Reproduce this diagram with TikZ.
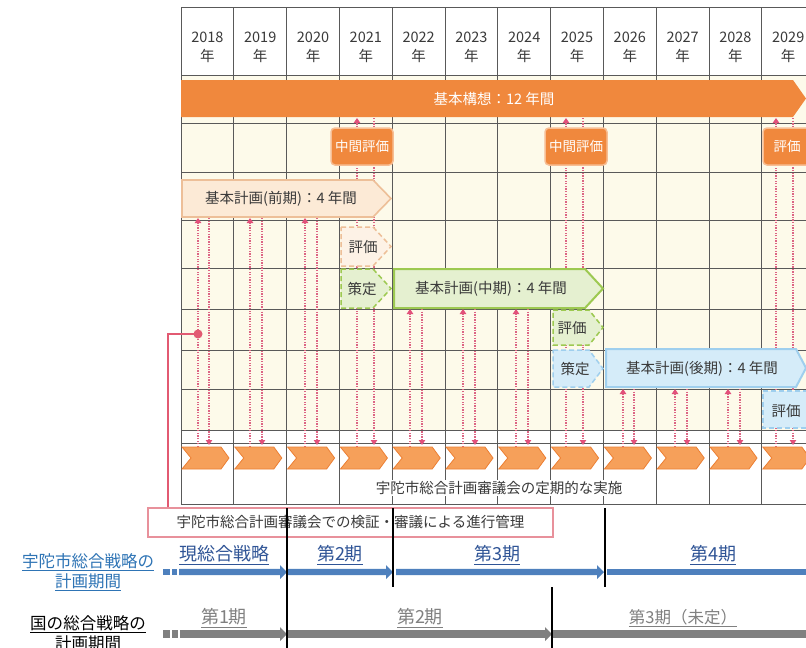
\documentclass[tikz,border=0pt]{standalone}
\usepackage{fontspec}
\setmainfont{Noto Sans CJK JP}
\usetikzlibrary{arrows.meta}
\definecolor{gridc}{HTML}{595959}
\definecolor{cream}{HTML}{FDFAEA}
\definecolor{orgA}{HTML}{F0883D}
\definecolor{chevF}{HTML}{F6A05A}
\definecolor{chevD}{HTML}{EC7F33}
\definecolor{peachF}{HTML}{FCEAD6}
\definecolor{peachD}{HTML}{EDBF98}
\definecolor{greenF}{HTML}{E5F0D0}
\definecolor{greenD}{HTML}{9DC951}
\definecolor{blueF}{HTML}{D5ECF9}
\definecolor{blueD}{HTML}{9FCFEE}
\definecolor{dotc}{HTML}{DC6584}
\definecolor{tipc}{HTML}{E2507A}
\definecolor{boxpink}{HTML}{E8919B}
\definecolor{linkpink}{HTML}{E25A72}
\definecolor{stratblue}{HTML}{4E80BD}
\definecolor{stratlabel}{HTML}{2F5496}
\definecolor{leftblue}{HTML}{2E74B5}
\definecolor{grayarr}{HTML}{808080}
\definecolor{txt}{HTML}{3A3A3A}
\tikzset{
  gridline/.style={draw=gridc, line width=0.9pt},
  yearlbl/.style={font=\fontsize{14.5}{19}\selectfont, align=center, text=txt, inner sep=0pt},
  chartlbl/.style={font=\fontsize{14.5}{16}\selectfont, text=txt, inner sep=0pt},
  evalbox/.style={rounded corners=4pt, fill=orgA, draw=orgA!55!white, line width=1.5pt, text=white, font=\fontsize{13.5}{15}\selectfont, minimum width=62pt, minimum height=37pt, inner sep=0pt},
  dotline/.style={draw=dotc, line width=1.1pt, dash pattern=on 1.3pt off 1.3pt},
  dotarrow/.style={dotline, -{Triangle[length=5pt,width=6.5pt,color=tipc]}},
  chev/.style={fill=chevF, draw=chevD, line width=0.8pt},
  planbox/.style={line width=1.6pt},
  dashbox/.style={line width=1.5pt, dash pattern=on 5pt off 3pt},
  stratlbl/.style={font=\fontsize{18}{20}\selectfont, text=stratlabel, inner sep=0pt},
  natlbl/.style={font=\fontsize{18}{20}\selectfont, text=grayarr, inner sep=0pt},
  sidelbl/.style={font=\fontsize{16.5}{20}\selectfont, align=center, inner sep=0pt},
}
% arrow segment with head: color, x0, x1, y, half thickness
\newcommand{\myarrowseg}[5]{\fill[#1] (#2,{#4-#5}) -- ({#3-7},{#4-#5}) -- ({#3-7},{#4-7}) -- (#3,#4) -- ({#3-7},{#4+7}) -- ({#3-7},{#4+#5}) -- (#2,{#4+#5}) -- cycle;}
\newcommand{\mybarseg}[5]{\fill[#1] (#2,{#4-#5}) rectangle (#3,{#4+#5});}
\begin{document}
\begin{tikzpicture}[x=1pt,y=-1pt]
\useasboundingbox (0,0) rectangle (806,648);
\clip (0,0) rectangle (806,648);
\fill[white] (0,0) rectangle (806,648);
\fill[cream] (181,75) rectangle (806,430);
% grid
\foreach \y in {7,75,123,172,220,268,309,350,389,430,443,504}
  \draw[gridline] (181,\y) -- (806,\y);
\foreach \i in {0,...,11}
  \draw[gridline] ({181+52.8*\i},7) -- ({181+52.8*\i},504);
% years
\foreach \i/\yr in {0/2018,1/2019,2/2020,3/2021,4/2022,5/2023,6/2024,7/2025,8/2026,9/2027,10/2028,11/2029}
  \node[yearlbl] (y\yr) at ({181+52.8*(\i+0.5)},47) {\yr\\年};
% dotted connectors
\foreach \xl/\xr/\yt in {198/209/218, 250/262/218, 305/317/218, 357/374/118, 410/422/309, 463/475/309, 516/528/309, 566/583/118, 623/634/389, 675/687/389, 728/740/389, 776/793/118}
{
  \draw[dotarrow] (\xl,447) -- (\xl,\yt);
  \draw[dotarrow] (\xr,\yt) -- (\xr,445);
}
% chevrons
\foreach \i in {0,...,11} {
  \pgfmathsetmacro\xa{181+52.8*\i}
  \draw[chev] ({\xa+1},447) -- ({\xa+40},447) -- ({\xa+48},458) -- ({\xa+40},469) -- ({\xa+1},469) -- ({\xa+10},458) -- cycle;
  \coordinate (ch\i) at ({\xa+25},447);
}
\node[chartlbl, fill=white, inner sep=1pt] (shingi) at (499,488) {宇陀市総合計画審議会の定期的な実施};
% basic concept bar
\fill[orgA] (181,80) -- (793,80) -- (806,98.5) -- (793,117) -- (181,117) -- cycle;
\node[chartlbl, text=white] (kihonkoso) at (494,99) {基本構想：12 年間};
% evaluation boxes
\node[evalbox] (mid1) at (362,146.5) {中間評価};
\node[evalbox] (mid2) at (576,146.5) {中間評価};
\node[evalbox, minimum width=48pt] (ev3) at (787,146.5) {評価};
% first plan
\draw[planbox, fill=peachF, draw=peachD] (182,180) -- (373,180) -- (391,198.5) -- (373,217) -- (182,217) -- cycle;
\node[chartlbl] (zenki) at (281,199) {基本計画(前期)：4 年間};
\draw[dashbox, fill=peachF!60!white, draw=peachD] (341,227) -- (373,227) -- (391,246.5) -- (373,266) -- (341,266) -- cycle;
\node[chartlbl] (hyoka1) at (363,247) {評価};
% second plan
\draw[dashbox, fill=greenF, draw=greenD] (341,269) -- (373,269) -- (391,288.5) -- (373,308) -- (341,308) -- cycle;
\node[chartlbl] (sakutei1) at (362,289) {策定};
\draw[planbox, line width=2pt, fill=greenF, draw=greenD] (394,269) -- (585,269) -- (603,288.5) -- (585,308) -- (394,308) -- cycle;
\node[chartlbl] (chuki) at (491,289) {基本計画(中期)：4 年間};
\draw[dashbox, fill=greenF, draw=greenD] (553,310) -- (589,310) -- (603,327.5) -- (589,345) -- (553,345) -- cycle;
\node[chartlbl] (hyoka2) at (572,328) {評価};
% third plan
\draw[dashbox, fill=blueF, draw=blueD] (553,350) -- (589,350) -- (603,368.5) -- (589,387) -- (553,387) -- cycle;
\node[chartlbl] (sakutei2) at (575,369) {策定};
\draw[planbox, line width=2pt, fill=blueF, draw=blueD] (606,349) -- (796,349) -- (806,368) -- (796,387) -- (606,387) -- cycle;
\node[chartlbl] (koki) at (702,369) {基本計画(後期)：4 年間};
\draw[dashbox, fill=blueF, draw=blueD] (763,391) -- (830,391) -- (830,428) -- (763,428) -- cycle;
\node[chartlbl] (hyoka3) at (786,411) {評価};
% management box and link
\coordinate (jn) at (198,334);
\node[chartlbl, draw=boxpink, line width=1.2pt, fill=white, minimum width=405pt, minimum height=29pt] (kanri) at (350.5,522.5) {宇陀市総合計画審議会での検証・審議による進行管理};
\draw[linkpink, line width=1.2pt] (kanri.north -| 168,0) |- (jn);
\fill[linkpink] (jn) circle (4.5pt);
% city strategy row
\mybarseg{stratblue}{163}{170}{572}{3.2}
\mybarseg{stratblue}{172}{177}{572}{3.2}
\myarrowseg{stratblue}{179}{287}{572}{3.2}
\myarrowseg{stratblue}{288}{393}{572}{3.2}
\myarrowseg{stratblue}{396}{604}{572}{3.2}
\mybarseg{stratblue}{607}{806}{572}{3.2}
% national strategy row
\mybarseg{grayarr}{163}{170}{634}{3.8}
\mybarseg{grayarr}{172}{178}{634}{3.8}
\myarrowseg{grayarr}{180}{287}{634}{3.8}
\myarrowseg{grayarr}{288}{552}{634}{3.8}
\mybarseg{grayarr}{553}{806}{634}{3.8}
% black separators
\draw[black, line width=1.6pt] (287,508) -- (287,648);
\draw[black, line width=1.6pt] (393,508) -- (393,587);
\draw[black, line width=1.2pt] (605,508) -- (605,587);
\draw[black, line width=1.6pt] (552,587) -- (552,648);
% labels
\node[stratlbl] (gen) at (224,555) {\underline{現総合戦略}};
\node[stratlbl] (dai2) at (340,555) {\underline{第2期}};
\node[stratlbl] (dai3) at (497,555) {\underline{第3期}};
\node[stratlbl] (dai4) at (713,555) {\underline{第4期}};
\node[natlbl] (n1) at (224,618) {\underline{第1期}};
\node[natlbl] (n2) at (420,618) {\underline{第2期}};
\node[natlbl, font=\fontsize{16.5}{20}\selectfont] (n3) at (683,618) {\underline{第3期（未定）}};
\node[sidelbl, text=leftblue] (udaL) at (88,572) {\underline{宇陀市総合戦略の}\\\underline{計画期間}};
\node[sidelbl, text=black] (kuniL) at (88,634) {\underline{国の総合戦略の}\\\underline{計画期間}};
\end{tikzpicture}
\end{document}
